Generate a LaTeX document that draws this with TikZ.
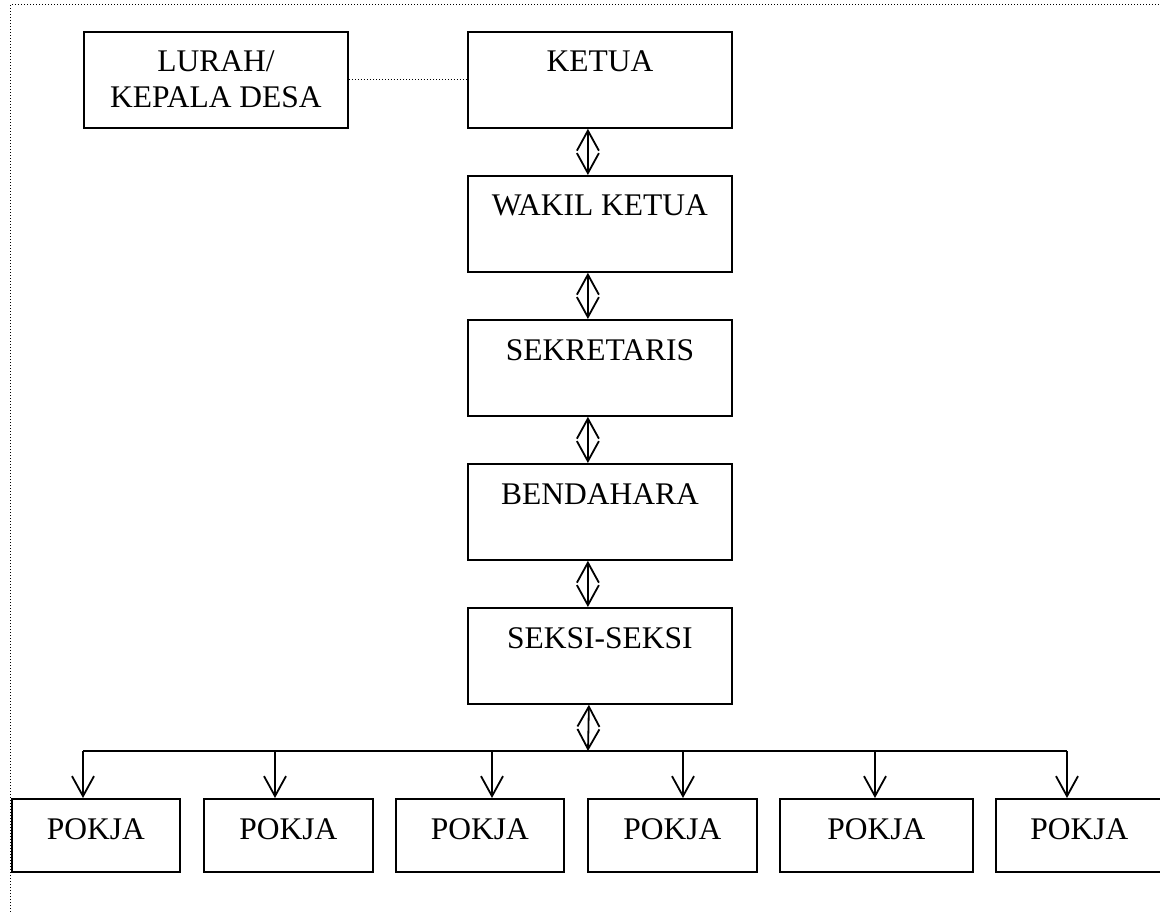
\documentclass[tikz,border=0pt]{standalone}
\usepackage{fontspec}
\setmainfont{Liberation Serif}
\usetikzlibrary{arrows.meta}
\begin{document}
\begin{tikzpicture}[x=1pt,y=-1pt,
  box/.style={draw, line width=1.8pt, rectangle, anchor=north west, inner sep=0pt},
  cbox/.style={box, minimum width=264pt, minimum height=96pt},
  pbox/.style={box, minimum height=73pt},
  lbl/.style={font=\fontsize{31.5}{36}\selectfont, anchor=base, yshift=-41pt, align=center, inner sep=0pt},
  dbl/.style={line width=1.8pt, {Straight Barb[length=20pt,width=22pt]}-{Straight Barb[length=20pt,width=22pt]}},
  arr/.style={line width=1.8pt, -{Straight Barb[length=20pt,width=22pt]}},
  frame/.style={dotted, line width=1pt}
]
\useasboundingbox (0,0) rectangle (1160,912);
\draw[frame] (10,912) -- (10,5) -- (1160,5);

\node[box, minimum width=264pt, minimum height=96pt, label={[lbl, yshift=-36pt]north:LURAH/\\KEPALA DESA}] (lurah) at (83,31) {};
\node[cbox, label={[lbl]north:KETUA}] (ketua) at (467,31) {};
\node[cbox, label={[lbl]north:WAKIL KETUA}] (wakil) at (467,175) {};
\node[cbox, label={[lbl]north:SEKRETARIS}] (sekr) at (467,319) {};
\node[cbox, label={[lbl]north:BENDAHARA}] (bend) at (467,463) {};
\node[cbox, label={[lbl]north:SEKSI-SEKSI}] (seksi) at (467,607) {};

\draw[frame] (lurah.east) -- (ketua.west);

\draw[dbl] ([xshift=-12pt]ketua.south) -- ([xshift=-12pt]wakil.north);
\draw[dbl] ([xshift=-12pt]wakil.south) -- ([xshift=-12pt]sekr.north);
\draw[dbl] ([xshift=-12pt]sekr.south) -- ([xshift=-12pt]bend.north);
\draw[dbl] ([xshift=-12pt]bend.south) -- ([xshift=-12pt]seksi.north);

\node[pbox, minimum width=168pt, label={[lbl]north:POKJA}] (p1) at (11,798) {};
\node[pbox, minimum width=169pt, label={[lbl]north:POKJA}] (p2) at (203,798) {};
\node[pbox, minimum width=168pt, label={[lbl]north:POKJA}] (p3) at (395,798) {};
\node[pbox, minimum width=169pt, label={[lbl]north:POKJA}] (p4) at (587,798) {};
\node[pbox, minimum width=193pt, label={[lbl]north:POKJA}] (p5) at (779,798) {};
\node[pbox, minimum width=167pt, label={[lbl]north:POKJA}] (p6) at (995,798) {};

\coordinate (bus) at (588,751);
\coordinate (t1) at (83,751);
\coordinate (t2) at (275,751);
\coordinate (t3) at (492,751);
\coordinate (t4) at (683,751);
\coordinate (t5) at (875,751);
\coordinate (t6) at (1067,751);

\draw[dbl] ([xshift=-11pt]seksi.south) -- (bus);
\draw[line width=1.8pt] (t1) -- (t6);
\draw[arr] (t1) -- (t1 |- p1.north);
\draw[arr] (t2) -- (t2 |- p2.north);
\draw[arr] (t3) -- (t3 |- p3.north);
\draw[arr] (t4) -- (t4 |- p4.north);
\draw[arr] (t5) -- (t5 |- p5.north);
\draw[arr] (t6) -- (t6 |- p6.north);
\end{tikzpicture}
\end{document}
